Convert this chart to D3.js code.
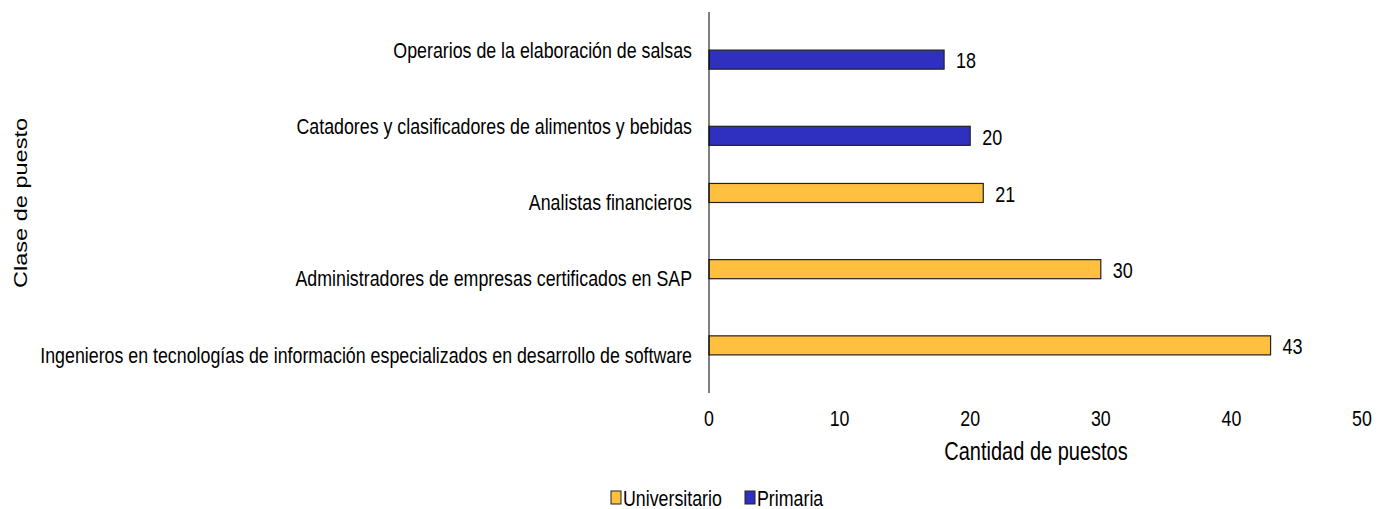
<!DOCTYPE html>
<html>
<head>
<meta charset="utf-8">
<script src="https://cdn.jsdelivr.net/npm/d3@7"></script>
<style>
  body { margin: 0; background: #fff; }
  svg text { font-family: "Liberation Sans", Arial, sans-serif; fill: #000; }
</style>
</head>
<body>
<svg width="1389" height="509"></svg>
<script>
// categorías (de arriba hacia abajo)
var categories = [
    "Operarios de la elaboración de salsas",
    "Catadores y clasificadores de alimentos y bebidas",
    "Analistas financieros",
    "Administradores de empresas certificados en SAP",
    "Ingenieros en tecnologías de información especializados en desarrollo de software"
];
var series = ["Universitario", "Primaria"];
var universitario = [0, 0, 21, 30, 43];
var primaria = [18, 20, 0, 0, 0];
var xTicks = [0, 10, 20, 30, 40, 50];
var colors = {Universitario: "#FFC040", Primaria: "#3030C0"};

var svg = d3.select("svg");
var plotLeft = 709, plotRight = 1362, plotTop = 12, plotBottom = 393;
var stretch = 1.22; // el texto original se ve estirado en vertical

function at(px, py, s) {
    return "translate(" + px + "," + py + ") scale(1," + (s || stretch) + ")";
}

var x = d3.scaleLinear().domain([0, 50]).range([plotLeft, plotRight]);
var y = d3.scaleBand().domain(categories).range([plotTop, plotBottom]).paddingInner(0).paddingOuter(0);
// dos series por categoría, ancho de hueco 100%
var ySub = d3.scaleBand().domain(series).range([y.bandwidth() / 4, y.bandwidth() * 3 / 4]);

var rows = categories.map(function (c, i) {
    return {cat: c, values: [
        {s: "Universitario", v: universitario[i]},
        {s: "Primaria", v: primaria[i]}
    ]};
});

var g = svg.selectAll(".cat")
    .data(rows)
    .enter().append("g")
    .attr("transform", function (d) { return "translate(0," + y(d.cat) + ")"; });

var bars = g.selectAll(".bar")
    .data(function (d) { return d.values.filter(function (e) { return e.v > 0; }); })
    .enter();

bars.append("rect")
    .attr("x", x(0))
    .attr("y", function (d) { return ySub(d.s); })
    .attr("width", function (d) { return x(d.v) - x(0); })
    .attr("height", ySub.bandwidth())
    .attr("fill", function (d) { return colors[d.s]; })
    .attr("stroke", "#222")
    .attr("stroke-width", 1.2);

bars.append("text")
    .attr("transform", function (d) { return at(x(d.v) + 12, ySub(d.s) + ySub.bandwidth() / 2 + 1); })
    .attr("dy", ".35em")
    .style("font-size", "18px")
    .text(function (d) { return d.v; });

// etiquetas de categoría
svg.selectAll(".catlabel")
    .data(categories)
    .enter().append("text")
    .attr("transform", function (d) { return at(plotLeft - 17, y(d) + y.bandwidth() / 2); })
    .attr("dy", ".35em")
    .attr("text-anchor", "end")
    .style("font-size", "17.8px")
    .text(function (d) { return d; });

// eje vertical
svg.append("line")
    .attr("x1", plotLeft).attr("x2", plotLeft)
    .attr("y1", plotTop).attr("y2", plotBottom)
    .attr("stroke", "#000").attr("stroke-width", 1);

// marcas del eje x
svg.selectAll(".xtick")
    .data(xTicks)
    .enter().append("text")
    .attr("transform", function (d) { return at(x(d), 418); })
    .attr("dy", ".35em")
    .attr("text-anchor", "middle")
    .style("font-size", "17.8px")
    .text(function (d) { return d; });

svg.append("text")
    .attr("transform", at(1036, 451, 1.3))
    .attr("dy", ".35em")
    .attr("text-anchor", "middle")
    .style("font-size", "20px")
    .text("Cantidad de puestos");

svg.append("text")
    .attr("transform", "translate(20,203) rotate(-90) scale(1.24,1)")
    .attr("dy", ".35em")
    .attr("text-anchor", "middle")
    .style("font-size", "19px")
    .text("Clase de puesto");

// leyenda
var legend = [{s: "Universitario", x: 611}, {s: "Primaria", x: 745}];
var lg = svg.selectAll(".legend")
    .data(legend)
    .enter().append("g")
    .attr("transform", function (d) { return "translate(" + d.x + ",498)"; });
lg.append("rect")
    .attr("x", 0).attr("y", -7)
    .attr("width", 10).attr("height", 13)
    .attr("fill", function (d) { return colors[d.s]; })
    .attr("stroke", "#222");
lg.append("text")
    .attr("transform", at(12, 0))
    .attr("dy", ".35em")
    .style("font-size", "17.8px")
    .text(function (d) { return d.s; });
</script>
</body>
</html>
